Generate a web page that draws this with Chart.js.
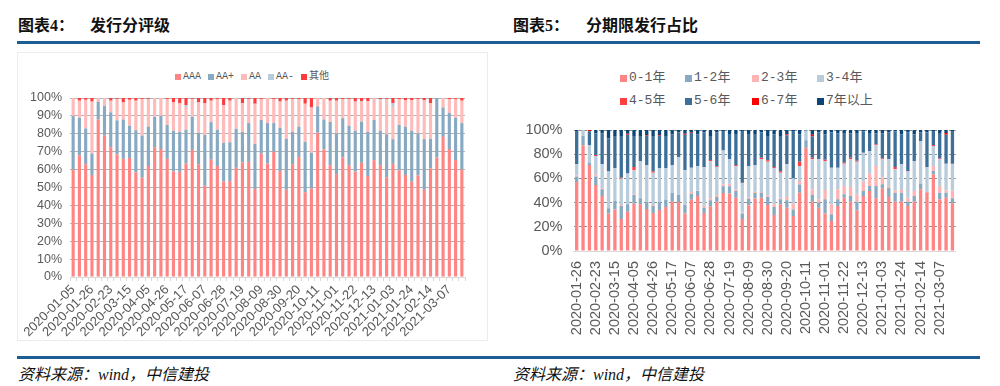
<!DOCTYPE html>
<html>
<head>
<meta charset="utf-8">
<script src="https://cdn.jsdelivr.net/npm/chart.js@4.4.1/dist/chart.umd.min.js"></script>
<style>
  body { margin: 0; width: 1000px; height: 386px; background: #fff; position: relative; overflow: hidden; }
  .title { position: absolute; top: 15px; font: bold 16px "Liberation Serif", "Noto Sans CJK SC"; color: #111; white-space: nowrap; line-height: 22px; }
  .rule { position: absolute; height: 3px; background: #1d5d93; }
  .source { position: absolute; top: 364px; font: italic 16px "Liberation Serif", "Noto Sans CJK SC"; color: #111; white-space: nowrap; line-height: 22px; }
  .frame { position: absolute; left: 17px; top: 52px; width: 469px; height: 287px; border: 1px solid #ececec; }
  canvas { position: absolute; }
  .legend { position: absolute; color: #595959; font-family: "Liberation Mono", "Noto Sans CJK SC"; white-space: nowrap; }
  .legend .item { display: flex; align-items: center; }
  .legend .sw { display: inline-block; margin-right: 2px; }
  #legendRating { left: 175px; top: 70px; display: flex; gap: 7px; font-size: 10px; line-height: 14px; }
  #legendRating .sw { width: 6px; height: 6px; }
  #legendTerm { left: 620px; top: 69px; display: grid; grid-template-columns: 65px 67px 65px 70px; row-gap: 5px; font-size: 13px; line-height: 18px; }
  #legendTerm .sw { width: 7px; height: 7px; }
</style>
</head>
<body>
<div class="title" style="left:18px">图表4：</div>
<div class="title" style="left:90px">发行分评级</div>
<div class="title" style="left:513px">图表5：</div>
<div class="title" style="left:586px">分期限发行占比</div>
<div class="rule" style="left:17px; top:41px; width:963px"></div>
<div class="frame"></div>
<div id="legendRating" class="legend"></div>
<div id="legendTerm" class="legend"></div>
<canvas id="ratingChart" width="470" height="285" style="left:17px; top:55px"></canvas>
<canvas id="termChart" width="480" height="230" style="left:500px; top:110px"></canvas>
<div class="rule" style="left:17px; top:356px; width:963px"></div>
<div class="source" style="left:18px">资料来源：wind，中信建投</div>
<div class="source" style="left:513px">资料来源：wind，中信建投</div>

<script>
Chart.defaults.font.family = "'Liberation Sans', Arial, sans-serif";
Chart.defaults.color = '#595959';

const weeks = [
  '2020-01-05', '2020-01-12', '2020-01-19', '2020-01-26', '2020-02-09', '2020-02-16', '2020-02-23',
  '2020-03-01', '2020-03-08', '2020-03-15', '2020-03-22', '2020-03-29', '2020-04-05', '2020-04-12',
  '2020-04-19', '2020-04-26', '2020-05-03', '2020-05-10', '2020-05-17', '2020-05-24', '2020-05-31',
  '2020-06-07', '2020-06-14', '2020-06-21', '2020-06-28', '2020-07-05', '2020-07-12', '2020-07-19',
  '2020-07-26', '2020-08-02', '2020-08-09', '2020-08-16', '2020-08-23', '2020-08-30', '2020-09-06',
  '2020-09-13', '2020-09-20', '2020-09-27', '2020-10-04', '2020-10-11', '2020-10-18', '2020-10-25',
  '2020-11-01', '2020-11-08', '2020-11-15', '2020-11-22', '2020-11-29', '2020-12-06', '2020-12-13',
  '2020-12-20', '2020-12-27', '2021-01-03', '2021-01-10', '2021-01-17', '2021-01-24', '2021-01-31',
  '2021-02-07', '2021-02-14', '2021-02-21', '2021-02-28', '2021-03-07', '2021-03-14', '2021-03-21'
];
// the term chart starts three weeks later
const termWeeks = weeks.slice(3);

// 图表4: share of issuance by rating, %
const ratingNames = ['AAA', 'AA+', 'AA', 'AA-', '其他'];
const aaa = [60, 68, 63, 57, 88, 79, 72.5, 68.5, 66, 66.5, 58.5, 55.5, 62, 72.5, 71.5, 66, 59, 58.7, 63.4, 71, 63,
  51, 65.5, 62, 53.4, 53.6, 61, 64, 64.3, 49.2, 68.9, 63.4, 70, 59.2, 48.7, 63, 67, 47.4, 49.4, 80.6, 71.3, 62.5,
  57.5, 66.8, 62.5, 58.9, 63.8, 56.4, 65.3, 62.5, 55.7, 63.2, 59.6, 57, 53.2, 56.8, 48.7, 60.6, 66.8, 78.3, 71.5, 65.3, 60];
const aaPlus = [30, 21, 20, 12, 10, 16.5, 19.5, 19, 22, 18, 23.5, 23.5, 22, 17, 18.5, 19, 22.7, 22.3, 18.9, 18.5, 17.6,
  28.3, 21, 20.3, 21.6, 21.7, 21.8, 17, 21.7, 25.1, 18.8, 22.6, 16, 24.2, 28.5, 18, 17, 28.1, 20, 14.7, 16.7, 24.1,
  22.7, 21.9, 22, 22.8, 23, 24.6, 22.4, 19.2, 24.1, 13.8, 25.4, 27, 28.5, 23.4, 28.3, 16.6, 33.2, 16.4, 20.2, 23.7, 26];
const aa = [10, 9.5, 16, 29, 2, 4.5, 6.5, 12, 9.5, 14.5, 16.5, 20.5, 15.5, 10.5, 10, 14.5, 15.8, 16, 12.7, 10, 16.9,
  17.7, 12, 17.2, 21, 23.2, 17.2, 16, 13.5, 22.5, 11.8, 14, 13.5, 14.6, 21.3, 18.5, 15.3, 21.3, 25.3, 4.7, 12, 11.9,
  18.3, 10.8, 15, 16.3, 11, 17.3, 12.3, 17, 19.7, 18, 14.3, 14.7, 17, 19.3, 21.7, 19.8, 0, 5.3, 7.6, 10.5, 12.5];
const aaMinus = [0, 0, 0, 0, 0, 0, 0, 0, 0, 0, 0, 0, 0, 0, 0, 0, 0, 0, 1, 0, 0,
  0, 0, 0, 0, 0, 0, 0, 0, 0, 0, 0, 0, 0, 0, 0, 0, 0, 0, 0, 0, 0,
  0, 0, 0, 0, 0.5, 0, 0, 0.6, 0, 2, 0, 0, 0, 0, 0, 0, 0, 0, 0, 0, 0];
const otherRating = [0, 1.5, 1, 2, 0, 0, 1.5, 0.5, 2.5, 1, 1.5, 0.5, 0.5, 0, 0, 0.5, 2.5, 3, 4, 0.5, 2.5,
  3, 1.5, 0.5, 4, 1.5, 0, 3, 0.5, 3.2, 0.5, 0, 0.5, 2, 1.5, 0.5, 0.7, 3.2, 5.3, 0, 0, 1.5,
  1.5, 0.5, 0.5, 2, 1.7, 1.7, 0, 0.7, 0.5, 3, 0.7, 1.3, 1.3, 0.5, 1.3, 3, 0, 0, 0.7, 0.5, 1.5];
const ratingColors = ['#ff8585', '#88a9c2', '#ffbaba', '#b8ccdb', '#ff3b3b'];

// 图表5: share of issuance by term, %
const termNames = ['0-1年', '1-2年', '2-3年', '3-4年', '4-5年', '5-6年', '6-7年', '7年以上'];
const y01 = [57, 87.5, 71, 54.5, 45.5, 31, 34.4, 26.4, 32.5, 39, 38.6, 34.7, 31.4, 33.9, 36.4, 40.8, 40.5, 30.9, 42.4, 45.5,
  31.4, 36.9, 40.8, 48, 47.5, 44, 26.5, 37.8, 43.4, 44, 38, 29.8, 38.6, 35.8, 28.9, 48.2, 85.4, 40.8, 35.8, 30.9,
  24.8, 37.2, 44, 40.8, 33.6, 45.5, 49.6, 43.5, 51.8, 44.6, 40.8, 40.8, 37.2, 40.8, 51, 48.5, 63.4, 42.7, 44, 39.4];
const y12 = [4.5, 7.5, 2, 7, 5.5, 4.3, 6.9, 10.8, 6.1, 7.3, 4.9, 6.1, 5.8, 6.9, 6, 7.4, 5.8, 7.1, 5, 4.1,
  4.4, 5, 3.8, 5.5, 6, 5.5, 4.5, 5.2, 4.6, 4.2, 6.6, 6.6, 4.1, 6.1, 5.5, 6.8, 6.1, 5.5, 4.2, 11.8,
  5.5, 5.5, 2.8, 4.7, 7.2, 4.1, 4.1, 10.2, 3.3, 7.7, 7.4, 7.4, 3.6, 4.7, 4.6, 0, 2.7, 5.5, 4.2, 4.1];
const y23 = [1, 0, 0, 1.5, 0.8, 0, 0, 0.8, 0, 0.5, 0, 0, 0.8, 0, 0, 0, 0, 0, 1.4, 0.4,
  1.7, 1.6, 1.7, 1.5, 2, 1.5, 1, 1, 1, 0.5, 1.1, 2.2, 1.3, 2.7, 4.6, 2.9, 0, 4.7, 2.7, 7.7,
  8.3, 8.3, 6.9, 7.4, 6, 7.7, 10.2, 16.5, 5.5, 1.4, 1.9, 2.2, 3.2, 4.1, 0, 0, 4.1, 5.5, 1.9, 6.6];
const y34 = [9.5, 5, 14.6, 15.5, 19.8, 30.3, 27.3, 22, 25.4, 19.9, 30.9, 30.3, 26.7, 27.5, 25.9, 22.9, 31.4, 28.7, 20.1, 20,
  31.9, 30.9, 23.1, 28, 20.5, 19, 24, 26, 22, 27.1, 28.1, 29.7, 20.7, 27, 21, 12.3, 8, 24.8, 33.1, 24,
  30.3, 17.9, 18.5, 22.9, 27, 24, 18.7, 17.4, 15.2, 22.1, 17.4, 21.2, 21.6, 24.8, 35.3, 20.9, 16.6, 22.1, 22.1, 21.5];
const y45 = [0, 0, 0, 0.8, 0, 0, 0, 0.6, 0, 2.7, 0, 0, 0.9, 0, 0, 0, 0, 0, 0, 0,
  0, 0.8, 0.6, 0, 0, 1, 0.5, 0, 0, 1.2, 1.2, 1.1, 1.3, 0, 0, 3.6, 0, 1.2, 0, 1.1,
  0, 0, 0.8, 1.2, 0.7, 0, 0, 0.6, 0.8, 0, 1.9, 0, 0.6, 0, 0, 0, 0.8, 0.6, 0, 0.6];
const y56 = [26.5, 0, 11.4, 18, 25.6, 27.5, 26.4, 34.4, 32, 25.6, 20.6, 23.9, 29.4, 26.7, 26.7, 25.3, 20.2, 29.3, 28.6, 26.4,
  28.6, 19.8, 28, 15.5, 20, 25, 42, 26, 25, 21, 20, 27, 29, 24, 38.5, 22.6, 0, 17.6, 22.2, 21,
  29.1, 28.3, 24.5, 20.2, 23, 17.7, 14.9, 9, 20.6, 22.2, 29.6, 24.8, 31.8, 22, 7.1, 28.6, 10.9, 21.1, 23.8, 26.3];
const y67 = [0, 0, 1, 0, 0, 0, 0, 0, 1, 0, 0, 0.5, 0, 0.5, 0, 0, 0, 1, 0.5, 0,
  0, 0, 0, 0, 0, 0, 0, 0, 0, 0, 0, 0, 0, 0.8, 0, 0, 0, 1.4, 0, 0,
  0, 0, 0, 0, 0, 0, 0, 0, 0, 0, 0, 0, 0, 0, 0, 0, 0, 0, 1.5, 0];
const y7plus = [1.5, 0, 0, 2.7, 2.8, 6.9, 5, 5, 3, 5, 5, 4.5, 5, 4.5, 5, 3.6, 2.1, 3, 2, 3.6,
  2, 5, 2, 1.5, 4, 4, 1.5, 4, 4, 2, 5, 3.6, 5, 3.6, 1.5, 3.6, 0.5, 4, 2, 3.5,
  2, 2.8, 2.5, 2.8, 2.5, 1, 2.5, 2.8, 2.8, 2, 1, 3.6, 2, 3.6, 2, 2, 1.5, 2.5, 2.5, 1.5];
const termColors = ['#ff8585', '#88a9c2', '#ffb4b4', '#b8ccdb', '#ff4040', '#3e6f98', '#ff0000', '#0c4677'];

function buildLegend(id, names, colors) {
  const box = document.getElementById(id);
  names.forEach((name, i) => {
    box.innerHTML += `<div class="item"><span class="sw" style="background:${colors[i]}"></span>${name}</div>`;
  });
}
buildLegend('legendRating', ratingNames, ratingColors);
buildLegend('legendTerm', termNames, termColors);

const ratingSeries = [aaa, aaPlus, aa, aaMinus, otherRating];
const ratingChart = new Chart(document.getElementById('ratingChart'), {
  type: 'bar',
  data: {
    labels: weeks,
    datasets: ratingSeries.map((d, i) => ({
      label: ratingNames[i],
      data: d,
      backgroundColor: ratingColors[i],
      borderWidth: 0,
      barPercentage: 0.5,
      categoryPercentage: 1
    }))
  },
  options: {
    responsive: false,
    animation: false,
    layout: { padding: { top: 43, right: 22 } },
    plugins: { legend: { display: false }, tooltip: { enabled: false } },
    scales: {
      x: {
        stacked: true,
        grid: { drawOnChartArea: false, tickLength: 4, color: '#d9d9d9' },
        border: { color: '#d9d9d9' },
        ticks: {
          autoSkip: false, minRotation: 45, maxRotation: 45, padding: 1,
          font: { size: 13 },
          callback: function (v, i) { return i % 3 === 0 ? this.getLabelForValue(v) : ''; }
        },
        afterFit: s => { s.height = 63; }
      },
      y: {
        stacked: true, min: 0, max: 100,
        grid: { drawTicks: false, color: c => c.tick.value === 0 ? 'rgba(0,0,0,0)' : '#b3b3b3' },
        border: { display: false },
        ticks: { stepSize: 10, autoSkip: false, padding: 8, font: { size: 12.5 }, callback: v => v + '%' },
        afterFit: s => { s.width = 53; }
      }
    }
  }
});

const termSeries = [y01, y12, y23, y34, y45, y56, y67, y7plus];
const termChart = new Chart(document.getElementById('termChart'), {
  type: 'bar',
  data: {
    labels: termWeeks,
    datasets: termSeries.map((d, i) => ({
      label: termNames[i],
      data: d,
      backgroundColor: termColors[i],
      borderWidth: 0,
      barPercentage: 0.52,
      categoryPercentage: 1
    }))
  },
  options: {
    responsive: false,
    animation: false,
    layout: { padding: { top: 20, right: 19 } },
    plugins: { legend: { display: false }, tooltip: { enabled: false } },
    scales: {
      x: {
        stacked: true,
        grid: { display: false, drawTicks: false },
        border: { color: '#d9d9d9' },
        ticks: {
          autoSkip: false, minRotation: 90, maxRotation: 90, padding: 10,
          font: { size: 14.5 },
          callback: function (v, i) { return i % 3 === 0 ? this.getLabelForValue(v) : ''; }
        },
        afterFit: s => { s.height = 89; }
      },
      y: {
        stacked: true, min: 0, max: 100,
        grid: { drawTicks: false, color: c => c.tick.value === 0 ? 'rgba(0,0,0,0)' : '#8c8c8c' },
        border: { display: false, dash: [3, 2] },
        ticks: { stepSize: 20, autoSkip: false, padding: 11, font: { size: 14.5 }, callback: v => v + '%' },
        afterFit: s => { s.width = 73.5; }
      }
    }
  }
});
</script>
</body>
</html>
